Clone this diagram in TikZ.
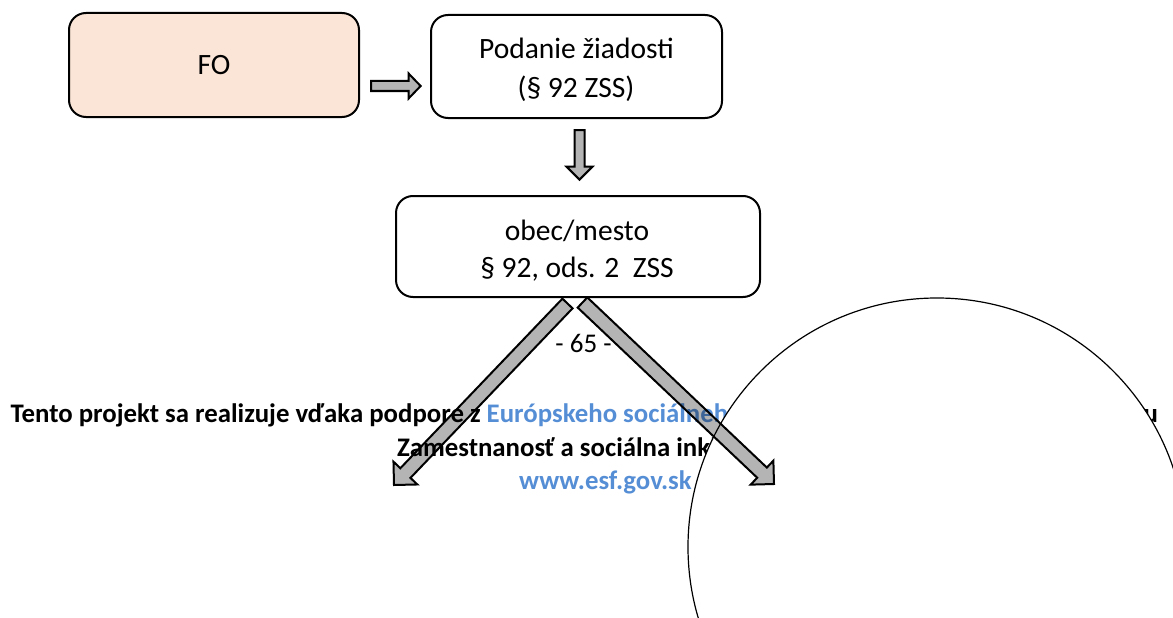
\documentclass[tikz,border=0pt]{standalone}
\usepackage{fontspec}
\setmainfont{Carlito}
\usetikzlibrary{calc}
\definecolor{esfblue}{HTML}{558ED5}
\definecolor{fofill}{HTML}{FBE5D6}
\definecolor{arrgray}{HTML}{B4B4B4}
\newcommand\fatarrow[5]{%
  \path ($(#2)!#5!(#1)$) coordinate (fa-h);
  \draw[fatarr] ($(#1)!#3!90:(#2)$) -- ($(fa-h)!#3!-90:(#1)$) -- ($(fa-h)!#4!-90:(#1)$) -- (#2) -- ($(fa-h)!#4!90:(#1)$) -- ($(fa-h)!#3!90:(#1)$) -- ($(#1)!#3!-90:(#2)$) -- cycle;
}
\tikzset{
  box/.style={draw=black, line width=2pt, rounded corners=17pt, inner sep=0pt, fill=white},
  boxtxt/.style={font=\fontsize{29.5}{38}\selectfont, anchor=base, inner sep=0pt},
  foot/.style={font=\bfseries\fontsize{26.8}{33}\selectfont, anchor=base west, inner sep=0pt},
  fatarr/.style={draw=black, line width=2pt, fill=arrgray, line join=miter},
}
\begin{document}
\begin{tikzpicture}[x=1pt,y=-1pt]
\path[use as bounding box] (0,0) rectangle (1173,618);
\clip (0,0) rectangle (1173,618);
% boxes
\node[box, fill=fofill, minimum width=290pt, minimum height=104pt] (fo) at (214,65) {};
\node[boxtxt] (fotxt) at (214,74.5) {FO};
\node[box, minimum width=291pt, minimum height=103pt] (pod) at (576.5,66.5) {};
\node[boxtxt] (podtxt1) at (576.5,59) {Podanie žiadosti};
\node[boxtxt] (podtxt2) at (576,97) {(§ 92 ZSS)};
\node[box, minimum width=364pt, minimum height=101pt] (obec) at (578,246.5) {};
\node[boxtxt] (obtxt1) at (577,240) {obec/mesto};
\node[boxtxt] (obtxt2) at (577,277) {§ 92, ods. 2\ \ ZSS};
% page number and footer
\node[font=\fontsize{27}{33}\selectfont, anchor=base, inner sep=0pt] (pnum) at (583.5,352) {- 65 -};
\node[foot] (f1) at (10.5,422) {Tento projekt sa realizuje vďaka podpore z \textcolor{esfblue}{Európskeho sociálneho fondu} v rámci Operačného programu};
\node[foot] (f2) at (397,456) {Zamestnanosť a sociálna inklúzia};
\node[foot, text=esfblue] (f3) at (519,489) {www.esf.gov.sk};
% circle
\draw[fill=white, line width=1.2pt] (937,547) circle[radius=249pt];
% connector end points
\coordinate (a1s) at ($(fo.east)+(11,21)$);
\coordinate (a1e) at ($(pod.west)+(-9.4,19.5)$);
\coordinate (a2s) at ($(pod.south)+(3,11)$);
\coordinate (a2e) at ($(obec.north)+(1.5,-15.4)$);
\coordinate (a3s) at ($(obec.south)+(-10.5,5.5)$);
\coordinate (a3e) at (394,485);
\coordinate (a4s) at ($(obec.south)+(4.5,4.5)$);
\coordinate (a4e) at (774,484);
\begin{scope}[blend mode=multiply]
\fatarrow{a1s}{a1e}{5pt}{12.5pt}{12pt}
\fatarrow{a2s}{a2e}{5pt}{13pt}{13pt}
\fatarrow{a3s}{a3e}{7pt}{16.5pt}{16.5pt}
\fatarrow{a4s}{a4e}{7pt}{16.5pt}{16.5pt}
\end{scope}
\end{tikzpicture}
\end{document}
